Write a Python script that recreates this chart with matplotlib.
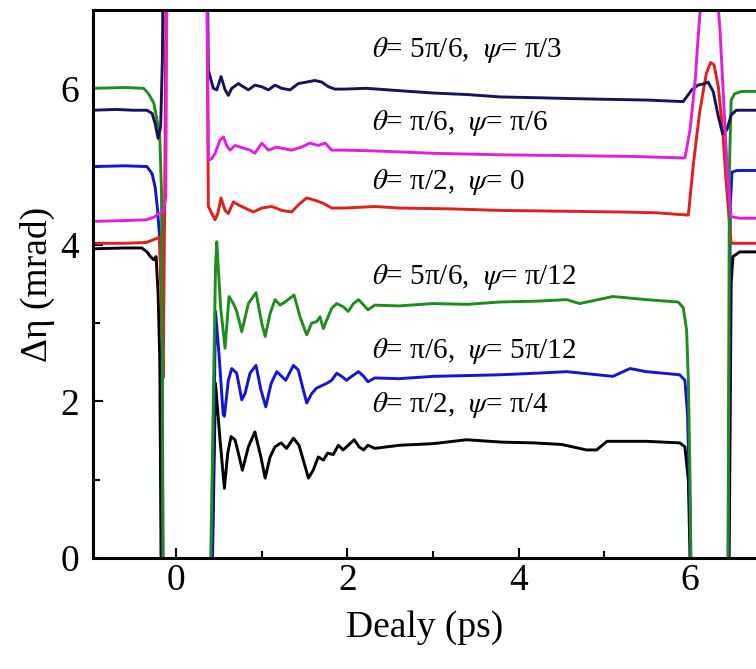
import matplotlib
matplotlib.use("Agg")
import matplotlib.pyplot as plt
from matplotlib.ticker import MultipleLocator

plt.rcParams['font.family'] = ['Liberation Serif', 'DejaVu Serif']
plt.rcParams['mathtext.fontset'] = 'stix'

# traces (delay in ps, delta eta in mrad)
# values outside the axes (above 7 or below 0) are where the trace leaves the frame
navy_x = [-0.97, -0.7, -0.5, -0.34, -0.28, -0.245, -0.21, -0.18, -0.16, -0.14, 0.35, 0.377, 0.435,
          0.475, 0.525, 0.572, 0.61, 0.65, 0.727, 0.785, 0.844, 0.92, 1.0, 1.077, 1.155, 1.233, 1.33,
          1.427, 1.525, 1.62, 1.70, 1.78, 1.855, 1.97, 2.22, 2.6, 3.0, 3.4, 3.78, 4.2, 4.56, 5.0, 5.5,
          5.92, 6.02, 6.09, 6.17, 6.21, 6.27, 6.33, 6.38, 6.43, 6.48, 6.54, 6.8]
navy_y = [5.72, 5.73, 5.72, 5.72, 5.68, 5.55, 5.36, 5.51, 6.36, 9.0, 9.0, 6.23, 6.0,
          5.98, 6.15, 5.98, 5.91, 6.0, 6.06, 6.02, 5.98, 6.04, 6.02, 5.98, 6.04, 6.0, 5.98,
          6.06, 6.08, 6.1, 6.08, 6.02, 5.99, 5.99, 6.0, 5.97, 5.94, 5.92, 5.89, 5.88, 5.87, 5.86, 5.85,
          5.83, 5.98, 6.04, 6.06, 6.08, 5.96, 5.64, 5.42, 5.47, 5.66, 5.72, 5.72]

magenta_x = [-0.97, -0.6, -0.35, -0.245, -0.21, -0.15, -0.12, -0.10, 0.35, 0.377, 0.416, 0.455,
             0.513, 0.552, 0.59, 0.63, 0.688, 0.747, 0.863, 0.92, 1.0, 1.077, 1.175, 1.25, 1.35,
             1.467, 1.563, 1.66, 1.74, 1.817, 1.97, 2.32, 3.0, 3.8, 4.6, 5.3, 5.94, 6.0, 6.06, 6.1,
             6.14, 6.22, 6.31, 6.35, 6.39, 6.43, 6.46, 6.48, 6.58, 6.8]
magenta_y = [4.30, 4.31, 4.32, 4.36, 4.40, 4.42, 4.6, 9.0, 9.0, 5.08, 5.1, 5.17,
             5.34, 5.38, 5.27, 5.21, 5.27, 5.25, 5.21, 5.17, 5.3, 5.21, 5.25, 5.23, 5.21,
             5.25, 5.30, 5.27, 5.30, 5.21, 5.21, 5.2, 5.17, 5.15, 5.14, 5.13, 5.11, 5.47, 6.1, 6.74,
             7.3, 8.0, 7.3, 6.74, 5.89, 5.04, 4.61, 4.36, 4.34, 4.34]

red_x = [-0.97, -0.6, -0.35, -0.23, -0.19, -0.17, -0.15, -0.13, -0.11, 0.35, 0.377, 0.455, 0.487,
         0.525, 0.572, 0.61, 0.669, 0.727, 0.805, 0.90, 1.0, 1.117, 1.233, 1.35, 1.427, 1.525,
         1.62, 1.72, 1.817, 1.97, 2.32, 2.61, 3.2, 3.78, 4.5, 5.18, 5.6, 5.98, 6.04, 6.11, 6.19,
         6.24, 6.28, 6.33, 6.38, 6.42, 6.46, 6.48, 6.58, 6.8]
red_y = [4.02, 4.02, 4.03, 4.08, 4.10, 3.0, 2.3, 5.0, 9.0, 9.0, 4.49, 4.32, 4.40,
         4.6, 4.44, 4.40, 4.55, 4.51, 4.47, 4.42, 4.47, 4.49, 4.44, 4.42, 4.51, 4.6,
         4.57, 4.53, 4.47, 4.47, 4.49, 4.47, 4.46, 4.44, 4.43, 4.42, 4.41, 4.38, 5.04, 5.68, 6.19,
         6.33, 6.3, 6.02, 5.47, 4.83, 4.28, 4.02, 4.02, 4.02]

green_x = [-0.97, -0.6, -0.38, -0.32, -0.26, -0.23, -0.19, -0.17, -0.16, -0.15, 0.39, 0.46, 0.475,
           0.52, 0.572, 0.618, 0.669, 0.708, 0.767, 0.844, 0.933, 1.0, 1.04, 1.097, 1.155, 1.213,
           1.272, 1.377, 1.447, 1.525, 1.583, 1.642, 1.68, 1.72, 1.758, 1.817, 1.875, 1.95, 2.01,
           2.07, 2.13, 2.19, 2.24, 2.32, 2.6, 3.0, 3.4, 3.78, 4.2, 4.56, 4.71, 5.1, 5.49, 5.86,
           5.92, 5.96, 5.98, 6.0, 6.02, 6.44, 6.46, 6.48, 6.52, 6.6, 6.8]
green_y = [6.0, 6.01, 6.0, 5.93, 5.81, 5.64, 5.38, 4.66, 2.53, -1.0, -1.0, 3.7, 4.04,
           3.2, 2.68, 3.34, 3.25, 3.15, 2.89, 3.25, 3.39, 3.0, 2.83, 3.12, 3.30, 3.23,
           3.27, 3.36, 3.08, 2.85, 3.0, 3.02, 3.08, 2.93, 3.04, 3.19, 3.25, 3.21, 3.15,
           3.25, 3.30, 3.23, 3.17, 3.23, 3.22, 3.25, 3.24, 3.27, 3.28, 3.30, 3.25, 3.34, 3.30, 3.27,
           3.2, 2.91, 2.27, 1.0, -1.0, -1.0, 5.0, 5.85, 5.93, 5.96, 5.96]

blue_x = [-0.97, -0.6, -0.34, -0.28, -0.245, -0.22, -0.195, -0.167, -0.15, 0.41, 0.46, 0.50,
          0.55, 0.564, 0.61, 0.65, 0.708, 0.767, 0.805, 0.863, 0.933, 0.99, 1.047, 1.11, 1.175,
          1.28, 1.37, 1.427, 1.475, 1.525, 1.583, 1.64, 1.758, 1.817, 1.875, 1.933, 1.99, 2.05,
          2.13, 2.19, 2.24, 2.32, 2.6, 3.0, 3.4, 3.78, 4.2, 4.56, 5.1, 5.30, 5.49, 5.88, 5.94,
          5.97, 6.0, 6.02, 6.44, 6.47, 6.49, 6.55, 6.8]
blue_y = [5.0, 5.01, 5.0, 4.91, 4.74, 4.49, 4.15, 3.3, -1.0, -1.0, 3.15, 2.62,
          1.83, 1.81, 2.27, 2.42, 2.36, 2.02, 2.1, 2.36, 2.46, 2.15, 1.93, 2.23, 2.38,
          2.27, 2.46, 2.40, 2.19, 1.98, 2.10, 2.17, 2.23, 2.27, 2.36, 2.32, 2.27, 2.32,
          2.38, 2.32, 2.25, 2.30, 2.29, 2.32, 2.33, 2.34, 2.36, 2.38, 2.32, 2.42, 2.38, 2.34, 2.27,
          1.85, 0.57, -1.0, -1.0, 4.5, 4.93, 4.95, 4.95]

black_x = [-0.97, -0.6, -0.4, -0.34, -0.30, -0.26, -0.233, -0.21, -0.19, -0.17, 0.41, 0.46, 0.513,
           0.564, 0.603, 0.642, 0.688, 0.727, 0.774, 0.844, 0.92, 0.99, 1.04, 1.097, 1.155, 1.225,
           1.29, 1.37, 1.435, 1.485, 1.545, 1.60, 1.66, 1.72, 1.77, 1.835, 1.894, 1.95, 2.01, 2.08,
           2.135, 2.19, 2.24, 2.32, 2.61, 3.0, 3.39, 3.8, 4.17, 4.5, 4.79, 4.91, 5.03, 5.49, 5.88,
           5.94, 5.98, 6.02, 6.45, 6.48, 6.5, 6.58, 6.8]
black_y = [3.95, 3.96, 3.96, 3.91, 3.85, 3.81, 3.85, 3.38, 2.53, -1.0, -1.0, 2.23, 1.51,
           0.89, 1.34, 1.55, 1.51, 1.34, 1.12, 1.42, 1.61, 1.29, 1.02, 1.29, 1.42, 1.47,
           1.40, 1.53, 1.44, 1.25, 1.02, 1.12, 1.29, 1.25, 1.34, 1.32, 1.44, 1.38, 1.44, 1.51,
           1.42, 1.38, 1.44, 1.40, 1.44, 1.46, 1.51, 1.48, 1.47, 1.45, 1.38, 1.38, 1.49, 1.49, 1.47,
           1.42, 1.0, -1.0, -1.0, 3.5, 3.85, 3.91, 3.91]

labels = [r'$\theta$= 5π/6,  $\psi$= π/3', r'$\theta$= π/6,  $\psi$= π/6', r'$\theta$= π/2,  $\psi$= 0',
          r'$\theta$= 5π/6,  $\psi$= π/12', r'$\theta$= π/6,  $\psi$= 5π/12', r'$\theta$= π/2,  $\psi$= π/4']
label_x = [2.29, 2.29, 2.29, 2.29, 2.29, 2.29]
label_y = [6.49, 5.56, 4.80, 3.59, 2.65, 1.95]

fig = plt.figure(figsize=(7.56, 6.69), dpi=100)
ax = fig.add_axes([0.123, 0.166, 0.877, 0.819])

lw = 2.1
ax.plot(black_x, black_y, color='black', lw=lw)
ax.plot(blue_x, blue_y, color='#1414d2', lw=lw)
ax.plot(red_x, red_y, color='#e0201c', lw=lw)
ax.plot(green_x, green_y, color='#1e8c1e', lw=lw)
ax.plot(navy_x, navy_y, color='#14145e', lw=lw)
ax.plot(magenta_x, magenta_y, color='#e020e0', lw=lw)

for t, x, y in zip(labels, label_x, label_y):
    ax.text(x, y, t, fontsize=21, va='center', ha='left')

ax.set_xlim(-0.97, 6.77)
ax.set_ylim(0, 7)
ax.set_xticks([0, 2, 4, 6])
ax.set_yticks([0, 2, 4, 6])
ax.xaxis.set_minor_locator(MultipleLocator(1))
ax.yaxis.set_minor_locator(MultipleLocator(1))
ax.tick_params(which='both', direction='in', width=1.5, labelsize=27)
ax.tick_params(which='major', length=7)
ax.tick_params(which='minor', length=5)
ax.tick_params(axis='x', pad=4)
ax.tick_params(axis='y', pad=10)

for s in ['left', 'bottom', 'top']:
    ax.spines[s].set_linewidth(2.2)
ax.spines['right'].set_visible(False)

ax.set_xlabel('Dealy (ps)', fontsize=27, labelpad=9)
ax.set_ylabel('Δη (mrad)', fontsize=27, labelpad=4)

fig.savefig('out.png', dpi=100)
